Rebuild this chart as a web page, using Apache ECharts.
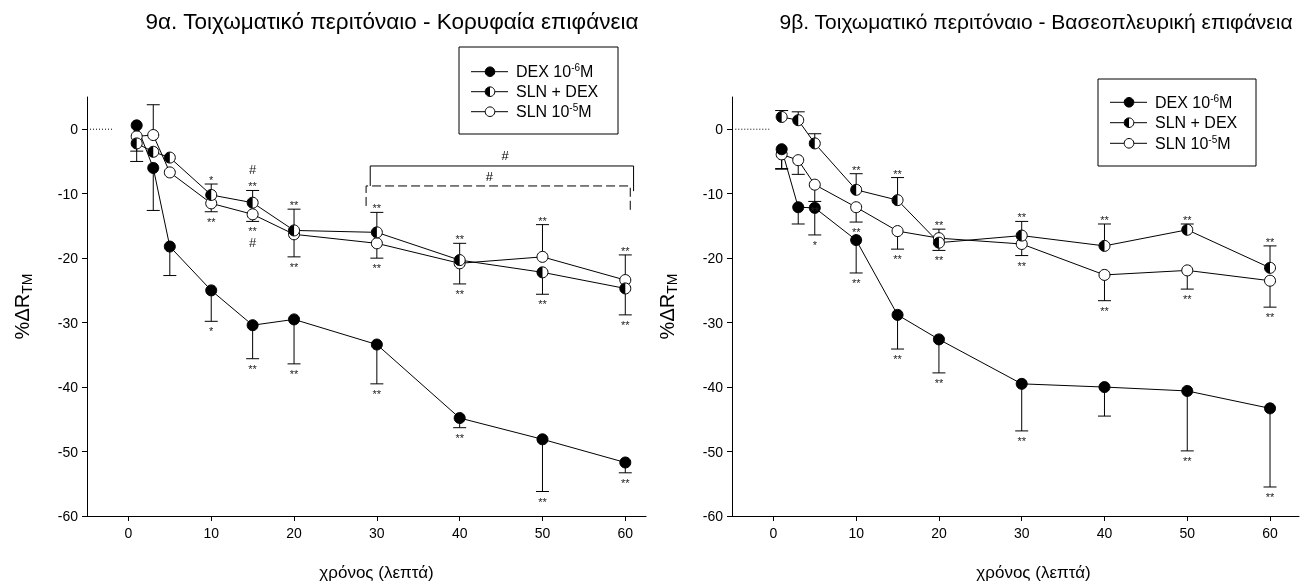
<!DOCTYPE html>
<html><head><meta charset="utf-8">
<script src="https://cdn.jsdelivr.net/npm/echarts@6/dist/echarts.min.js"></script>
<style>html,body{margin:0;padding:0;background:#fff}#c{width:1302px;height:587px;filter:grayscale(100%)}</style>
</head><body><div id="c"></div>
<script>
// ---------- data ----------
const times = [1, 3, 5, 10, 15, 20, 30, 40, 50, 60];
const xTicks = [0, 10, 20, 30, 40, 50, 60];
const yTicks = [-60, -50, -40, -30, -20, -10, 0];
const legendMain = ['DEX 10', 'SLN + DEX', 'SLN 10'];
const legendSup = ['-6', '', '-5'];
const legendTail = ['M', '', 'M'];
const titles = ['9α. Τοιχωματικό περιτόναιο - Κορυφαία επιφάνεια', '9β. Τοιχωματικό περιτόναιο - Βασεοπλευρική επιφάνεια'];
const xTitle = 'χρόνος (λεπτά)';
const yTitleMain = '%ΔR';
const yTitleSub = 'TM';

// Panel 9α (signed error: negative = bar drawn downward)
const aDex = [0.6, -6.0, -18.2, -25.0, -30.4, -29.5, -33.4, -44.8, -48.1, -51.7];
const aDexErr = [0, -6.6, -4.5, -4.8, -5.2, -6.9, -6.1, -1.5, -8.1, -1.6];
const aDexStars = ['', '', '', '*', '**', '**', '**', '**', '**', '**'];
const aMix = [-2.2, -3.5, -4.4, -10.2, -11.4, -15.7, -16.0, -20.3, -22.2, -24.7];
const aMixErr = [-2.8, 0, 0, 1.7, 1.9, 3.3, 3.1, 2.6, -3.4, -4.1];
const aMixStars = ['', '', '', '*', '#\n**', '**', '**', '**', '**', '**'];
const aSln = [-1.1, -0.9, -6.7, -11.5, -13.2, -16.3, -17.7, -20.8, -19.8, -23.4];
const aSlnErr = [-2.3, 4.7, 0, -1.3, -1.1, -3.5, -2.3, -3.2, 5.0, 3.9];
const aSlnStars = ['', '', '', '**', '**\n#', '**', '**', '**', '**', '**'];
const aBaseX = [-5, -1.9];
const aBracketSolidX = [29.2, 29.2, 61.0, 61.0];
const aBracketSolidY = [-8.8, -5.7, -5.7, -9.6];
const aBracketDashX = [28.7, 28.7, 60.6, 60.6];
const aBracketDashY = [-11.9, -8.8, -8.8, -12.7];
const aHashX = [45.5, 43.6];
const aHashY = [-4.0, -7.4];

// Panel 9β
const bDex = [-3.1, -12.1, -12.2, -17.2, -28.8, -32.6, -39.5, -40.0, -40.6, -43.3];
const bDexErr = [-3.0, -2.6, -4.2, -5.1, -5.3, -5.2, -7.3, -4.5, -9.3, -12.2];
const bDexStars = ['', '', '*', '**', '**', '**', '**', '', '**', '**'];
const bMix = [1.9, 1.4, -2.2, -9.4, -11.0, -17.6, -16.5, -18.1, -15.6, -21.5];
const bMixErr = [1.0, 1.3, 1.5, 2.5, 3.5, -1.2, 2.2, 3.4, 0.9, 3.4];
const bMixStars = ['', '', '', '**', '**', '**', '**', '**', '**', '**'];
const bSln = [-3.9, -4.8, -8.6, -12.1, -15.8, -16.9, -17.8, -22.6, -21.9, -23.5];
const bSlnErr = [-2.3, -2.2, -2.6, -2.3, -2.8, 1.4, -1.8, -4.0, -2.9, -4.1];
const bSlnStars = ['', '', '**', '**', '**', '**', '**', '**', '**', '**'];
const bBaseX = [-4.6, -0.5];

// ---------- helpers ----------
const FONT = '"Liberation Sans", Arial, sans-serif';
const R = 5.5;
const STAR = '#222';

function markerShapes(cx, cy, r, kind) {
  if (kind === 'filled') return [{type: 'circle', shape: {cx, cy, r}, style: {fill: '#000', stroke: '#000', lineWidth: 1}}];
  if (kind === 'open') return [{type: 'circle', shape: {cx, cy, r}, style: {fill: '#fff', stroke: '#000', lineWidth: 1}}];
  return [
    {type: 'circle', shape: {cx, cy, r}, style: {fill: '#fff', stroke: 'none'}},
    {type: 'sector', shape: {cx, cy, r0: 0, r, startAngle: Math.PI / 2, endAngle: Math.PI * 1.5, clockwise: true}, style: {fill: '#000'}},
    {type: 'circle', shape: {cx, cy, r}, style: {fill: 'none', stroke: '#000', lineWidth: 1}}
  ];
}

function lineSeries(idx, ys) {
  return {type: 'line', xAxisIndex: idx, yAxisIndex: idx, data: times.map((t, i) => [t, ys[i]]),
    showSymbol: false, symbol: 'none', lineStyle: {color: '#000', width: 1}, z: 2, silent: true, animation: false};
}
function markerSeries(idx, ys, kind) {
  return {type: 'custom', xAxisIndex: idx, yAxisIndex: idx, z: 5, animation: false, silent: true,
    itemStyle: {color: '#000'},
    data: times.map((t, i) => [t, ys[i]]), encode: {x: 0, y: 1},
    renderItem(params, api) {
      const p = api.coord([api.value(0), api.value(1)]);
      return {type: 'group', children: markerShapes(p[0], p[1], R, kind)};
    }};
}
function errorSeries(idx, ys, errs) {
  return {type: 'custom', xAxisIndex: idx, yAxisIndex: idx, z: 3, animation: false, silent: true,
    itemStyle: {color: '#000'},
    data: times.map((t, i) => [t, ys[i], errs[i]]), encode: {x: 0, y: 1},
    renderItem(params, api) {
      const e = api.value(2);
      if (!e) return null;
      const p0 = api.coord([api.value(0), api.value(1)]);
      const p1 = api.coord([api.value(0), api.value(1) + e]);
      return {type: 'group', children: [
        {type: 'line', shape: {x1: p0[0], y1: p0[1], x2: p1[0], y2: p1[1]}, style: {stroke: '#000', lineWidth: 1}},
        {type: 'line', shape: {x1: p1[0] - 6.5, y1: p1[1], x2: p1[0] + 6.5, y2: p1[1]}, style: {stroke: '#000', lineWidth: 1}}
      ]};
    }};
}
function starSeries(idx, ys, errs, stars) {
  return {type: 'custom', xAxisIndex: idx, yAxisIndex: idx, z: 6, animation: false, silent: true,
    itemStyle: {color: STAR},
    data: times.map((t, i) => [t, ys[i], errs[i]]), encode: {x: 0, y: 1},
    renderItem(params, api) {
      const s = stars[params.dataIndex];
      if (!s) return null;
      const e = api.value(2);
      const end = api.coord([api.value(0), api.value(1) + e]);
      const lines = s.split('\n');
      const ordered = e >= 0 ? lines.slice().reverse() : lines;
      const children = ordered.map((ln, k) => {
        const off = e >= 0 ? (-4 - 14 * k) : (10 + 14 * k);
        return {type: 'text', style: {text: ln, x: end[0], y: end[1] + off + (ln === '#' ? -3 : 0),
          align: 'center', verticalAlign: 'middle', fontSize: ln === '#' ? 13 : 11, fontFamily: FONT, fill: STAR}};
      });
      return {type: 'group', children};
    }};
}
function baseSeries(idx, xs) {
  return {type: 'line', xAxisIndex: idx, yAxisIndex: idx, data: xs.map(x => [x, 0]), symbol: 'none',
    lineStyle: {color: '#000', width: 1, type: [1, 2]}, z: 1, silent: true, animation: false};
}
function polySeries(idx, xs, ys, dashed) {
  return {type: 'line', xAxisIndex: idx, yAxisIndex: idx, data: xs.map((x, i) => [x, ys[i]]), symbol: 'none',
    lineStyle: {color: '#000', width: 1, type: dashed ? [9, 4] : 'solid'}, z: 1, silent: true, animation: false};
}
function hashSeries(idx, xs, ys) {
  return {type: 'custom', xAxisIndex: idx, yAxisIndex: idx, z: 6, animation: false, silent: true,
    itemStyle: {color: '#000'},
    data: xs.map((x, i) => [x, ys[i]]), encode: {x: 0, y: 1},
    renderItem(params, api) {
      const p = api.coord([api.value(0), api.value(1)]);
      return {type: 'text', style: {text: '#', x: p[0], y: p[1], align: 'center', verticalAlign: 'middle',
        fontSize: 13, fontFamily: FONT, fill: '#000'}};
    }};
}

function legendGraphic(x0, y0, w, h, rows) {
  const kinds = ['filled', 'half', 'open'];
  const children = [{type: 'rect', shape: {x: 0, y: 0, width: w, height: h}, style: {fill: '#fff', stroke: '#000', lineWidth: 1}}];
  kinds.forEach((k, i) => {
    const y = rows[i];
    children.push({type: 'line', shape: {x1: 12, y1: y, x2: 49, y2: y}, style: {stroke: '#000', lineWidth: 1}});
    markerShapes(31, y, 4.8, k).forEach(c => children.push(c));
    const txt = legendSup[i] ? '{t|' + legendMain[i] + '}{s|' + legendSup[i] + '}{t|' + legendTail[i] + '}' : '{t|' + legendMain[i] + '}';
    children.push({type: 'text', style: {text: txt, x: 57, y: y, verticalAlign: 'middle', align: 'left',
      rich: {t: {fontSize: 16, fontFamily: FONT, fill: '#000', lineHeight: 18},
             s: {fontSize: 10, fontFamily: FONT, fill: '#000', lineHeight: 10, verticalAlign: 'top'}}}});
  });
  return {type: 'group', x: x0, y: y0, children, z: 10};
}

function xAxis(gridIdx, max, shift) {
  return {type: 'value', gridIndex: gridIdx, min: -5, max: max, splitLine: {show: false},
    axisLine: {show: true, onZero: false, lineStyle: {color: '#000', width: 1}},
    axisTick: {show: true, length: 5, inside: false, customValues: xTicks, lineStyle: {color: '#000'}},
    axisLabel: {customValues: xTicks, color: '#000', fontSize: 14, fontFamily: FONT, margin: 10},
    name: xTitle, nameLocation: 'middle', nameGap: 48,
    nameTextStyle: {fontSize: 17, fontFamily: FONT, color: '#000', padding: [0, 0, 0, shift]}};
}
function yAxis(gridIdx) {
  return {type: 'value', gridIndex: gridIdx, min: -60, max: 5, splitLine: {show: false},
    axisLine: {show: true, onZero: false, lineStyle: {color: '#000', width: 1}},
    axisTick: {show: true, length: 5, customValues: yTicks, lineStyle: {color: '#000'}},
    axisLabel: {customValues: yTicks, color: '#000', fontSize: 14, fontFamily: FONT, margin: 9},
    name: '{m|' + yTitleMain + '}{b|' + yTitleSub + '}', nameLocation: 'middle', nameGap: 53, nameRotate: 90,
    nameTextStyle: {rich: {m: {fontSize: 20, fontFamily: FONT, color: '#000', lineHeight: 24},
                           b: {fontSize: 14, fontFamily: FONT, color: '#000', lineHeight: 14, verticalAlign: 'bottom'}}}};
}

const option = {
  animation: false,
  backgroundColor: '#fff',
  title: [
    {text: titles[0], left: 387, top: 5, textAlign: 'center', textStyle: {fontSize: 22.5, fontWeight: 'normal', fontFamily: FONT, color: '#000'}},
    {text: titles[1], left: 1031, top: 6, textAlign: 'center', textStyle: {fontSize: 21, fontWeight: 'normal', fontFamily: FONT, color: '#000'}}
  ],
  grid: [
    {left: 87, top: 97, width: 559, height: 419, containLabel: false},
    {left: 732, top: 97, width: 567, height: 419, containLabel: false}
  ],
  xAxis: [xAxis(0, 62.5, 20), xAxis(1, 63.5, 36)],
  yAxis: [yAxis(0), yAxis(1)],
  series: [
    baseSeries(0, aBaseX),
    polySeries(0, aBracketSolidX, aBracketSolidY, false),
    polySeries(0, aBracketDashX, aBracketDashY, true),
    hashSeries(0, aHashX, aHashY),
    lineSeries(0, aDex), lineSeries(0, aMix), lineSeries(0, aSln),
    errorSeries(0, aDex, aDexErr), errorSeries(0, aMix, aMixErr), errorSeries(0, aSln, aSlnErr),
    markerSeries(0, aSln, 'open'), markerSeries(0, aMix, 'half'), markerSeries(0, aDex, 'filled'),
    starSeries(0, aDex, aDexErr, aDexStars), starSeries(0, aMix, aMixErr, aMixStars), starSeries(0, aSln, aSlnErr, aSlnStars),

    baseSeries(1, bBaseX),
    lineSeries(1, bDex), lineSeries(1, bMix), lineSeries(1, bSln),
    errorSeries(1, bDex, bDexErr), errorSeries(1, bMix, bMixErr), errorSeries(1, bSln, bSlnErr),
    markerSeries(1, bSln, 'open'), markerSeries(1, bMix, 'half'), markerSeries(1, bDex, 'filled'),
    starSeries(1, bDex, bDexErr, bDexStars), starSeries(1, bMix, bMixErr, bMixStars), starSeries(1, bSln, bSlnErr, bSlnStars)
  ],
  graphic: [
    legendGraphic(459, 47, 159, 87, [24.7, 44.7, 64.7]),
    legendGraphic(1098, 79, 158, 87, [23.3, 43.7, 64.3])
  ]
};
const chart = echarts.init(document.getElementById('c'), null, {renderer: 'svg'});
chart.setOption(option);
</script></body></html>
